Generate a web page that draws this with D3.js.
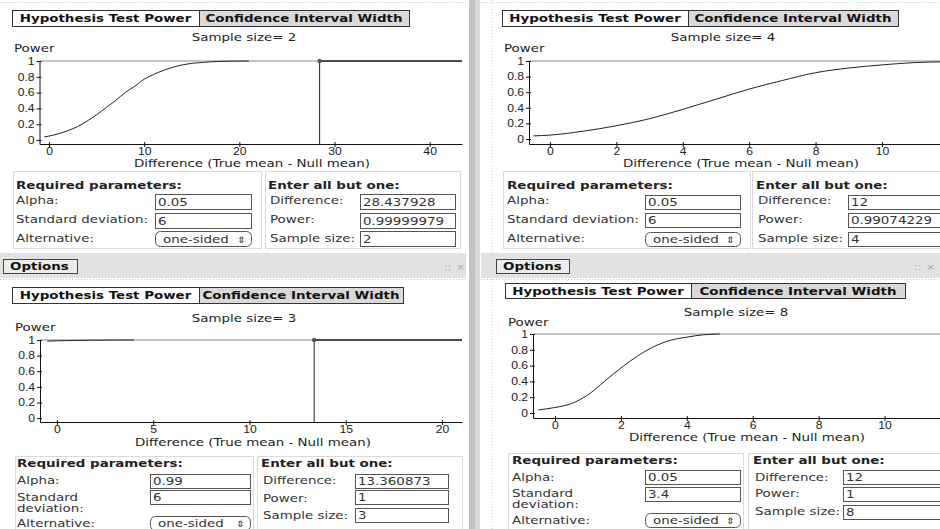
<!DOCTYPE html>
<html><head><meta charset="utf-8">
<script src="https://cdn.jsdelivr.net/npm/d3@7"></script>
<style>
html,body{margin:0;padding:0;background:#fff;}
svg{display:block;font-family:"DejaVu Sans",Verdana,sans-serif;}
</style></head><body>
<svg id="c" width="940" height="529"></svg>
<script>
// ---------------- data ----------------
const tabLabels = ["Hypothesis Test Power", "Confidence Interval Width"];
const titlePrefix = "Sample size= ";
const sampleSizes = [2, 4, 3, 8];
const yTicks = [0, 0.2, 0.4, 0.6, 0.8, 1];
const xTicks1 = [0, 10, 20, 30, 40];
const xTicks2 = [0, 2, 4, 6, 8, 10];
const xTicks3 = [0, 5, 10, 15, 20];
const xTicks4 = [0, 2, 4, 6, 8, 10];

const diff1  = [-0.5, 0, 1, 2, 3, 4, 5, 6, 7, 8, 9, 10, 11, 12, 13, 14, 15, 16, 17, 18, 19, 20, 21];
const power1 = [0.04, 0.05, 0.08, 0.12, 0.17, 0.24, 0.32, 0.41, 0.50, 0.60, 0.68, 0.77, 0.83, 0.88, 0.92, 0.95, 0.97, 0.98, 0.99, 0.995, 0.998, 0.999, 1];
const diff2  = [-0.5, 0, 1, 2, 3, 4, 5, 6, 7, 8, 9, 10, 11, 12, 12.5];
const power2 = [0.04, 0.05, 0.10, 0.17, 0.26, 0.38, 0.51, 0.64, 0.75, 0.85, 0.91, 0.95, 0.98, 0.99, 0.995];
const diff3  = [-0.5, 0, 1, 2, 3, 4];
const power3 = [0.985, 0.99, 0.995, 0.998, 0.999, 1];
const diff4  = [-0.5, 0, 0.5, 1, 1.5, 2, 2.5, 3, 3.5, 4, 4.5, 5];
const power4 = [0.04, 0.07, 0.12, 0.23, 0.40, 0.57, 0.72, 0.84, 0.92, 0.96, 0.99, 1];

const selectedDiff  = [28.437928, 12, 13.360873, 12];
const selectedPower = [0.99999979, 0.99074229, 1, 1];

const yAxisLabel = "Power";
const xAxisLabel = "Difference (True mean - Null mean)";
const fieldsetLabels = ["Required parameters:", "Enter all but one:"];
const leftFieldLabels = ["Alpha:", "Standard deviation:", "Alternative:"];
const rightFieldLabels = ["Difference:", "Power:", "Sample size:"];
const alphaValues = ["0.05", "0.05", "0.99", "0.05"];
const sdValues = ["6", "6", "6", "3.4"];
const alternativeValues = ["one-sided", "one-sided", "one-sided", "one-sided"];
const differenceValues = ["28.437928", "12", "13.360873", "12"];
const powerValues = ["0.99999979", "0.99074229", "1", "1"];
const sampleSizeValues = ["2", "4", "3", "8"];
const optionsLabel = "Options";

// ---------------- layout ----------------
const FONT = "DejaVu Sans, Verdana, sans-serif";
const SX = 1.22; // horizontal stretch of the screenshot
const svg = d3.select("#c");
svg.append("rect").attr("width", 940).attr("height", 529).attr("fill", "#fff");

function T(p, x, y, s, o = {}) {
  return p.append("text")
    .attr("transform", `translate(${x},${y}) scale(${SX},1)`)
    .attr("font-size", o.size || 11)
    .attr("font-weight", o.bold ? "bold" : null)
    .attr("text-anchor", o.anchor || "start")
    .attr("fill", o.fill || "#222")
    .attr("font-family", FONT)
    .text(s);
}

// window chrome: separator stripe, option bands, faint borders
svg.append("rect").attr("x", 469).attr("y", 0).attr("width", 11).attr("height", 529).attr("fill", "#c2c2c2");
svg.append("rect").attr("x", 475).attr("y", 0).attr("width", 5).attr("height", 529).attr("fill", "#d8d8d8");
svg.append("line").attr("x1", 492).attr("x2", 492).attr("y1", 0).attr("y2", 529)
  .attr("stroke", "#c8c8c8").attr("stroke-dasharray", "1,2");
[[0, 466], [481, 940]].forEach(([a, b]) => {
  svg.append("rect").attr("x", a).attr("y", 253).attr("width", b - a).attr("height", 25).attr("fill", "#e2e2e2");
  svg.append("line").attr("x1", a).attr("x2", b).attr("y1", 2.5).attr("y2", 2.5)
    .attr("stroke", "#c4c4c4").attr("stroke-dasharray", "1,2");
  svg.append("line").attr("x1", a).attr("x2", b).attr("y1", 279.5).attr("y2", 279.5)
    .attr("stroke", "#c4c4c4").attr("stroke-dasharray", "1,2");
});
[[3, 259, 74], [496, 259, 73]].forEach(([bx, by, bw]) => {
  svg.append("rect").attr("x", bx + 0.5).attr("y", by + 0.5).attr("width", bw).attr("height", 14)
    .attr("fill", "#ececec").attr("stroke", "#444");
  T(svg, bx + 7, by + 11, optionsLabel, { bold: true, fill: "#111" });
});
[[444, 456], [914, 926]].forEach(([a, b]) => {
  T(svg, a, 270, "::", { size: 9, fill: "#aaa" });
  T(svg, b, 270, "×", { size: 9, fill: "#aaa" });
});

const layout = [
  { tabX: 12, tabY: 10, tab1W: 187, tab2W: 210, tabH: 16, titleX: 244, titleY: 41, powerX: 14, powerY: 52,
    xd: [-1, 43.4], xr: [39.5, 462], yd: [-0.05, 1], yr: [144, 61], axX: 252, axY: 167,
    fsL: [13, 171, 248, 77], fsR: [265, 171, 195, 77], headY: 189, labL: 16, labR: 270,
    inL: 155, inLW: 96, inR: 360, inRW: 95, inH: 15,
    rowL: [204, 223, 242], inYL: [194, 213, 231], sdTwoLines: false,
    rowR: [204, 223, 242], inYR: [194, 213, 231] },
  { tabX: 502, tabY: 10, tab1W: 186, tab2W: 210, tabH: 16, titleX: 723, titleY: 41, powerX: 504, powerY: 52,
    xd: [-0.63, 12.5], xr: [529, 965], yd: [-0.064, 1], yr: [144, 61], axX: 741, axY: 167,
    fsL: [503, 171, 247, 77], fsR: [752, 171, 200, 77], headY: 189, labL: 507, labR: 758,
    inL: 645, inLW: 95, inR: 848, inRW: 100, inH: 14,
    rowL: [204, 223, 242], inYL: [195, 213, 232], sdTwoLines: false,
    rowR: [204, 223, 242], inYR: [195, 213, 232] },
  { tabX: 12, tabY: 287, tab1W: 187, tab2W: 204, tabH: 16, titleX: 244, titleY: 322, powerX: 15, powerY: 331,
    xd: [-0.88, 21.04], xr: [40, 462], yd: [-0.05, 1], yr: [422, 340], axX: 253, axY: 446,
    fsL: [15, 456, 238, 80], fsR: [257, 456, 205, 80], headY: 467, labL: 17, labR: 263,
    inL: 150, inLW: 100, inR: 355, inRW: 93, inH: 14,
    rowL: [484, 501, 527], inYL: [474, 490, 516], sdTwoLines: true,
    rowR: [484, 502, 519], inYR: [474, 490, 508] },
  { tabX: 505, tabY: 283, tab1W: 186, tab2W: 214, tabH: 15, titleX: 736, titleY: 316, powerX: 508, powerY: 326,
    xd: [-0.667, 12.5], xr: [533, 967], yd: [-0.063, 1], yr: [418, 334], axX: 747, axY: 441,
    fsL: [508, 453, 235, 80], fsR: [748, 453, 200, 80], headY: 464, labL: 512, labR: 755,
    inL: 645, inLW: 95, inR: 843, inRW: 110, inH: 14,
    rowL: [481, 497, 524], inYL: [470, 487, 513], sdTwoLines: true,
    rowR: [481, 497, 515], inYR: [470, 487, 505] }
];

const curves = [[diff1, power1], [diff2, power2], [diff3, power3], [diff4, power4]];
const xTickSets = [xTicks1, xTicks2, xTicks3, xTicks4];

layout.forEach((L, i) => {
  const g = svg.append("g");
  // tabs
  g.append("rect").attr("x", L.tabX + 0.5).attr("y", L.tabY + 0.5).attr("width", L.tab1W).attr("height", L.tabH)
    .attr("fill", "#fff").attr("stroke", "#333");
  g.append("rect").attr("x", L.tabX + L.tab1W + 0.5).attr("y", L.tabY + 0.5).attr("width", L.tab2W).attr("height", L.tabH)
    .attr("fill", "#d9d9d9").attr("stroke", "#333");
  T(g, L.tabX + L.tab1W / 2, L.tabY + 12, tabLabels[0], { bold: true, anchor: "middle", fill: "#111" });
  T(g, L.tabX + L.tab1W + L.tab2W / 2, L.tabY + 12, tabLabels[1], { bold: true, anchor: "middle", fill: "#111" });

  // title & y label
  T(g, L.titleX, L.titleY, titlePrefix + sampleSizes[i], { anchor: "middle" });
  T(g, L.powerX, L.powerY, yAxisLabel);

  // scales
  const x = d3.scaleLinear().domain(L.xd).range(L.xr);
  const y = d3.scaleLinear().domain(L.yd).range(L.yr);

  // line at power = 1
  g.append("line").attr("x1", L.xr[0]).attr("x2", L.xr[1]).attr("y1", y(1)).attr("y2", y(1))
    .attr("stroke", "#8a8a8a").attr("stroke-width", 1);

  // axes
  g.append("g").attr("transform", `translate(0,${L.yr[0]})`)
    .attr("font-size", 11).attr("font-family", FONT)
    .call(d3.axisBottom(x).tickValues(xTickSets[i]).tickSize(3).tickPadding(1).tickSizeOuter(0).tickFormat(d3.format("d")))
    .call(a => {
      a.select(".domain").attr("stroke", "#111");
      a.selectAll(".tick line").attr("y1", -2).attr("stroke", "#111");
      a.selectAll(".tick text").attr("fill", "#222").attr("transform", `scale(${SX},1)`);
    });
  g.append("g").attr("transform", `translate(${L.xr[0]},0)`)
    .attr("font-size", 11).attr("font-family", FONT)
    .call(d3.axisLeft(y).tickValues(yTicks).tickSize(3).tickPadding(1).tickSizeOuter(0).tickFormat(d3.format("~g")))
    .call(a => {
      a.select(".domain").attr("stroke", "#111");
      a.selectAll(".tick line").attr("x1", 2).attr("stroke", "#111");
      a.selectAll(".tick text").attr("fill", "#222").attr("transform", `scale(${SX},1)`);
    });

  // power curve
  const [dx, py] = curves[i];
  const pts = dx.map((d, k) => [d, py[k]]);
  g.append("path").datum(pts)
    .attr("d", d3.line().x(d => x(d[0])).y(d => y(d[1])).curve(d3.curveMonotoneX))
    .attr("fill", "none").attr("stroke", "#222").attr("stroke-width", 1);

  // selected point
  const sx = x(selectedDiff[i]), sy = y(selectedPower[i]);
  g.append("line").attr("x1", sx).attr("x2", sx).attr("y1", L.yr[0]).attr("y2", sy)
    .attr("stroke", "#222").attr("stroke-width", 1);
  g.append("line").attr("x1", sx).attr("x2", L.xr[1]).attr("y1", sy).attr("y2", sy)
    .attr("stroke", "#222").attr("stroke-width", 1.4);
  g.append("circle").attr("cx", sx).attr("cy", sy).attr("r", 2.2).attr("fill", "#555");

  // x axis title
  T(g, L.axX, L.axY, xAxisLabel, { anchor: "middle" });

  // fieldsets
  [L.fsL, L.fsR].forEach(f => {
    g.append("rect").attr("x", f[0] + 0.5).attr("y", f[1] + 0.5).attr("width", f[2]).attr("height", f[3])
      .attr("fill", "none").attr("stroke", "#b5b5b5").attr("stroke-dasharray", "1,1");
  });
  T(g, L.labL, L.headY, fieldsetLabels[0], { bold: true, fill: "#222" });
  T(g, L.labR - 2, L.headY, fieldsetLabels[1], { bold: true, fill: "#222" });

  // left labels
  T(g, L.labL, L.rowL[0], leftFieldLabels[0], { fill: "#333" });
  if (L.sdTwoLines) {
    const parts = leftFieldLabels[1].split(" ");
    T(g, L.labL, L.rowL[1], parts[0], { fill: "#333" });
    T(g, L.labL, L.rowL[1] + 11, parts[1], { fill: "#333" });
  } else {
    T(g, L.labL, L.rowL[1], leftFieldLabels[1], { fill: "#333" });
  }
  T(g, L.labL, L.rowL[2], leftFieldLabels[2], { fill: "#333" });

  const input = (ix, iy, w, v) => {
    g.append("rect").attr("x", ix + 0.5).attr("y", iy + 0.5).attr("width", w).attr("height", L.inH)
      .attr("fill", "#fff").attr("stroke", "#555");
    T(g, ix + 3, iy + L.inH - 3, v, { fill: "#333" });
  };
  input(L.inL, L.inYL[0], L.inLW, alphaValues[i]);
  input(L.inL, L.inYL[1], L.inLW, sdValues[i]);
  // select
  g.append("rect").attr("x", L.inL + 0.5).attr("y", L.inYL[2] + 0.5).attr("width", L.inLW).attr("height", L.inH)
    .attr("rx", 5).attr("fill", "#fff").attr("stroke", "#555");
  T(g, L.inL + 8, L.inYL[2] + L.inH - 3, alternativeValues[i], { fill: "#333" });
  T(g, L.inL + L.inLW - 10, L.inYL[2] + L.inH - 3, "⇕", { size: 9, anchor: "middle", fill: "#333" });

  // right labels & inputs
  const rv = [differenceValues[i], powerValues[i], sampleSizeValues[i]];
  rightFieldLabels.forEach((lab, k) => {
    T(g, L.labR, L.rowR[k], lab, { fill: "#333" });
    input(L.inR, L.inYR[k], L.inRW, rv[k]);
  });
});
</script>
</body></html>
